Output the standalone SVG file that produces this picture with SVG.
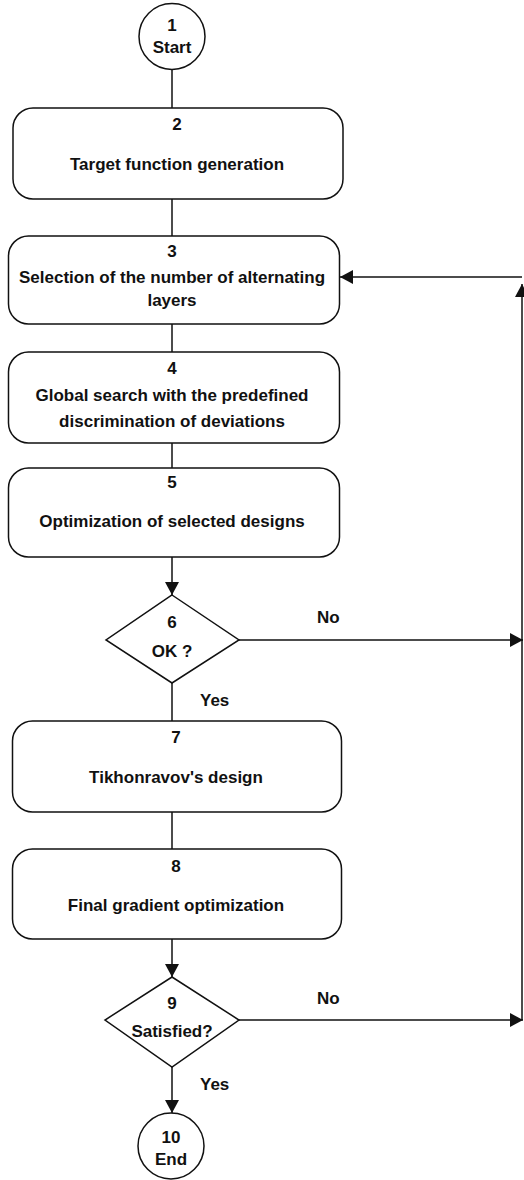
<svg xmlns="http://www.w3.org/2000/svg" width="524" height="1180" viewBox="0 0 524 1180">
<style>
.s{fill:#fff;stroke:#111;stroke-width:1.5}
.t{font-family:"Liberation Sans",Arial,sans-serif;font-weight:bold;font-size:17px;fill:#111;text-anchor:middle}
.l{font-family:"Liberation Sans",Arial,sans-serif;font-weight:bold;font-size:17px;fill:#111}
.c{fill:none;stroke:#111;stroke-width:1.5}
</style>
<defs>
<marker id="ah" markerUnits="userSpaceOnUse" markerWidth="14" markerHeight="14" refX="13" refY="7" orient="auto">
<path d="M0,0 L13,7 L0,14 Z" fill="#111"/>
</marker>
</defs>
<rect width="524" height="1180" fill="#fff"/>
<g id="connectors">
<line class="c" x1="172" y1="69" x2="172" y2="108"/>
<line class="c" x1="172" y1="199" x2="172" y2="236"/>
<line class="c" x1="172" y1="324" x2="172" y2="352"/>
<line class="c" x1="172" y1="443" x2="172" y2="468"/>
<line class="c" x1="172" y1="557" x2="172" y2="595" marker-end="url(#ah)"/>
<line class="c" x1="172" y1="683" x2="172" y2="721"/>
<line class="c" x1="172" y1="812" x2="172" y2="849"/>
<line class="c" x1="172" y1="939" x2="172" y2="977" marker-end="url(#ah)"/>
<line class="c" x1="172" y1="1067" x2="172" y2="1113" marker-end="url(#ah)"/>
<line class="c" x1="239" y1="640" x2="523" y2="640" marker-end="url(#ah)"/>
<line class="c" x1="239" y1="1020" x2="523" y2="1020" marker-end="url(#ah)"/>
<line class="c" x1="522" y1="1020" x2="522" y2="284" marker-end="url(#ah)"/>
<line class="c" x1="522" y1="277" x2="340" y2="277" marker-end="url(#ah)"/>
<text class="l" x="317" y="623">No</text>
<text class="l" x="200" y="706">Yes</text>
<text class="l" x="317" y="1004">No</text>
<text class="l" x="200" y="1090">Yes</text>
</g>
<g id="n1">
<circle class="s" cx="172" cy="36.5" r="33"/>
<text class="t" x="172" y="31">1</text>
<text class="t" x="172" y="53">Start</text>
</g>
<g id="n2">
<rect class="s" x="13" y="108" width="330" height="91" rx="20"/>
<text class="t" x="177" y="130">2</text>
<text class="t" x="177" y="170">Target function generation</text>
</g>
<g id="n3">
<rect class="s" x="8.5" y="236" width="331" height="88" rx="20"/>
<text class="t" x="172" y="257">3</text>
<text class="t" x="172" y="283">Selection of the number of alternating</text>
<text class="t" x="172" y="306">layers</text>
</g>
<g id="n4">
<rect class="s" x="8.5" y="352" width="331" height="91" rx="20"/>
<text class="t" x="172" y="374">4</text>
<text class="t" x="172" y="401">Global search with the predefined</text>
<text class="t" x="172" y="427">discrimination of deviations</text>
</g>
<g id="n5">
<rect class="s" x="8.5" y="468" width="331" height="89" rx="20"/>
<text class="t" x="172" y="488">5</text>
<text class="t" x="172" y="527">Optimization of selected designs</text>
</g>
<g id="n6">
<polygon class="s" points="172,595 239,640 172,683 106,640"/>
<text class="t" x="172" y="628">6</text>
<text class="t" x="172" y="657">OK ?</text>
</g>
<g id="n7">
<rect class="s" x="12.5" y="721" width="329" height="91" rx="20"/>
<text class="t" x="176" y="743">7</text>
<text class="t" x="176" y="783">Tikhonravov's design</text>
</g>
<g id="n8">
<rect class="s" x="12.5" y="849" width="329" height="90" rx="20"/>
<text class="t" x="176" y="872">8</text>
<text class="t" x="176" y="911">Final gradient optimization</text>
</g>
<g id="n9">
<polygon class="s" points="172,977 239,1020 172,1067 105,1020"/>
<text class="t" x="172" y="1009">9</text>
<text class="t" x="172" y="1037">Satisfied?</text>
</g>
<g id="n10">
<circle class="s" cx="171" cy="1146" r="33"/>
<text class="t" x="171" y="1143">10</text>
<text class="t" x="171" y="1165">End</text>
</g>
</svg>
